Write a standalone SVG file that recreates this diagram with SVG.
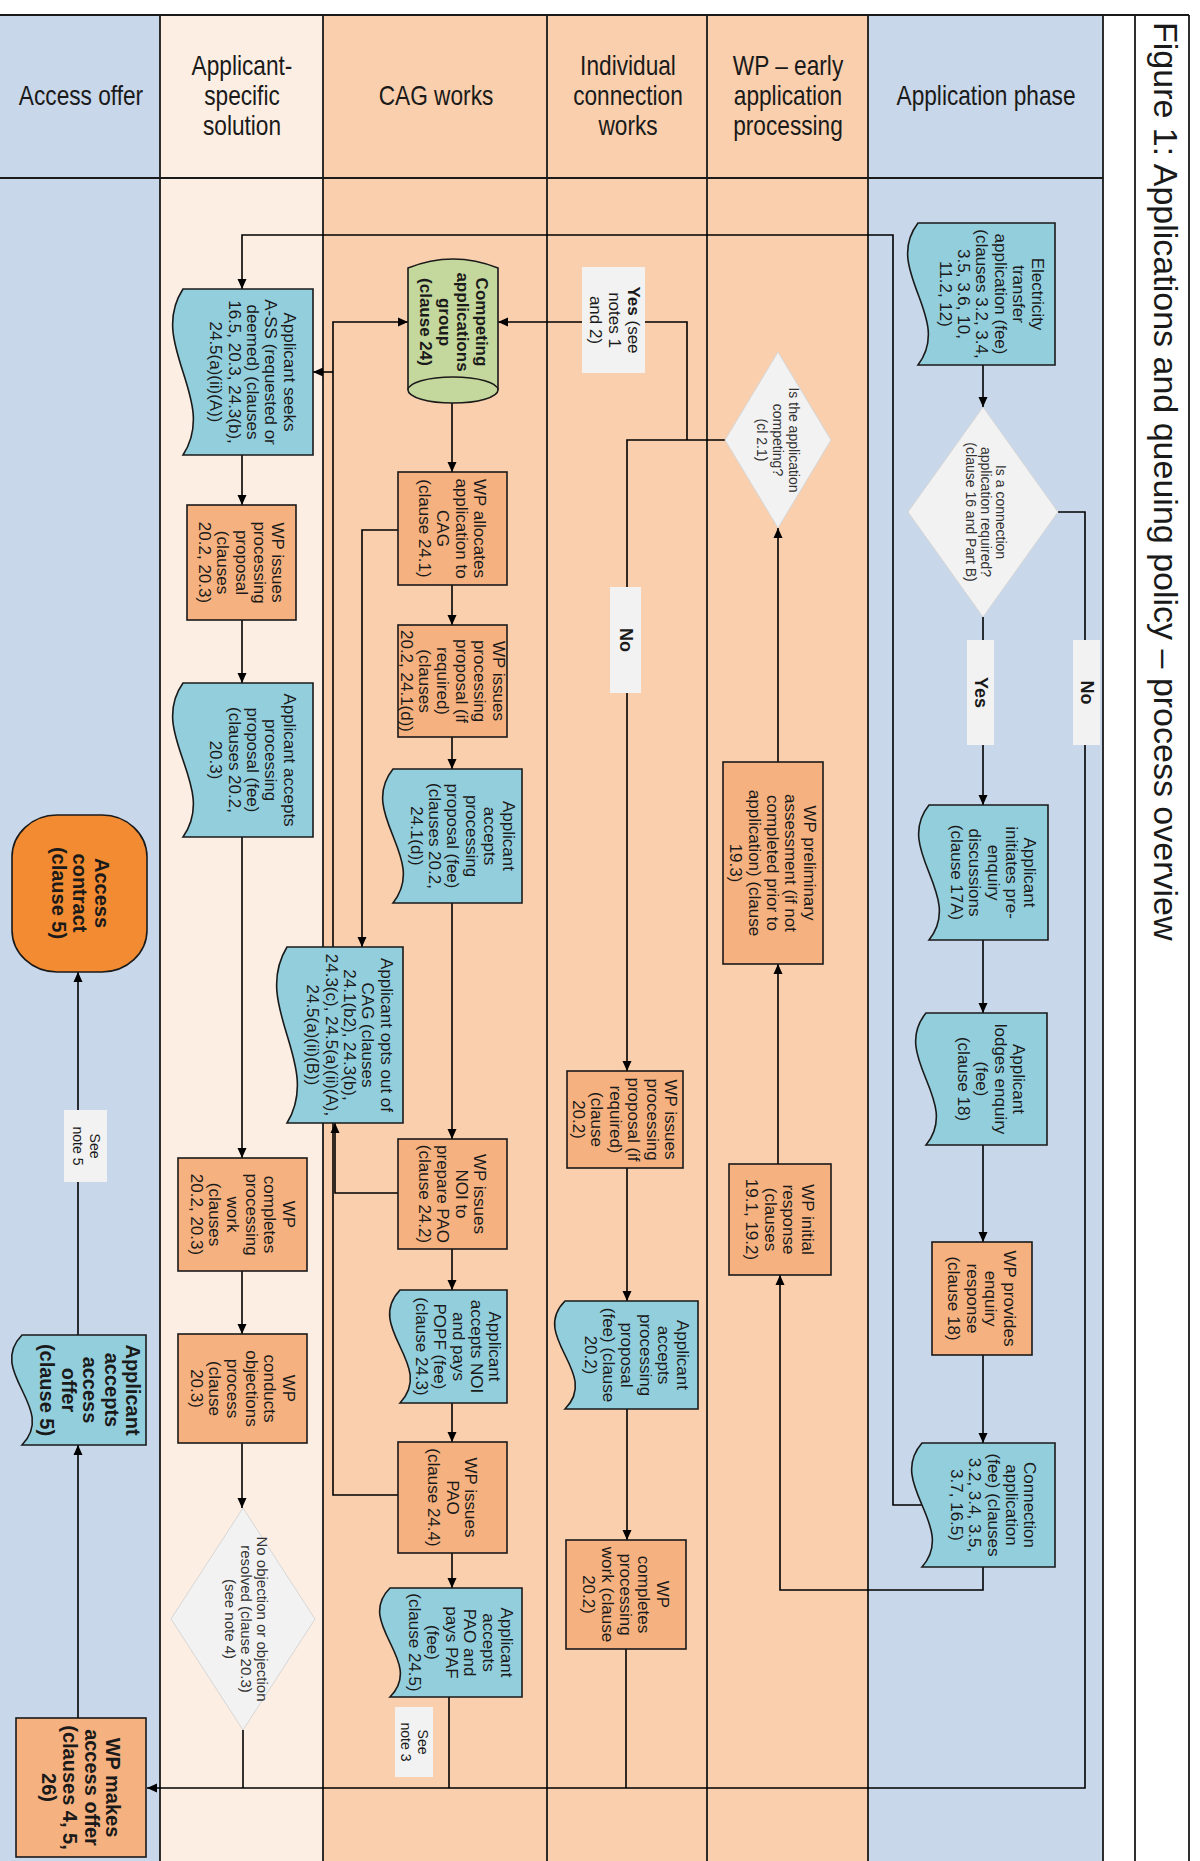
<svg xmlns="http://www.w3.org/2000/svg" width="1200" height="1861" viewBox="0 0 1200 1861">
<defs>
<marker id="ah" viewBox="0 0 10 10" refX="10" refY="5" markerWidth="11" markerHeight="10" markerUnits="userSpaceOnUse" orient="auto"><path d="M0,0.5 L10,5 L0,9.5 z" fill="#000"/></marker>
<style>
.lb{fill:#c8d7e9}
.lp{fill:#facfad}
.ll{fill:#fdeee3}
.ln{stroke:#1a1a1a;stroke-width:1.8;fill:none}
.proc{fill:#f5b17f;stroke:#1a1a1a;stroke-width:1.6}
.doc{fill:#93cedd;stroke:#1a1a1a;stroke-width:1.6}
.dec{fill:#f2f2f2;stroke:#d6d6d6;stroke-width:1}
.cyl{fill:#c4d79c;stroke:#1a1a1a;stroke-width:1.6}
.term{fill:#f28b31;stroke:#1a1a1a;stroke-width:1.6}
.lbl{fill:#f2f2f2}
.c{stroke:#000;stroke-width:1.6;fill:none}
text{font-family:"Liberation Sans",Arial,sans-serif;fill:#1a1a1a;text-anchor:middle}
.t{font-size:17px}
.tb{font-size:17px;font-weight:bold}
.ta{font-size:20px;font-weight:bold}
.td{font-size:14px;fill:#333}
.tl{font-size:17px}
.ts{font-size:14px}
.tyn{font-size:18px;font-weight:bold}
.hdr{font-size:28px}
.ttl{font-size:34px;text-anchor:start}
</style>
</defs>

<g id="lanes">
<rect class="lb" x="0" y="15" width="160" height="1846"/>
<rect class="ll" x="160" y="15" width="163" height="1846"/>
<rect class="lp" x="323" y="15" width="545" height="1846"/>
<rect class="lb" x="868" y="15" width="235" height="1846"/>
<path class="ln" d="M0,15 H1189 M0,178 H1103 M160,15 V1861 M323,15 V1861 M547,15 V1861 M707,15 V1861 M868,15 V1861 M1103,15 V1861 M1135,15 V1861 M1189,15 V1861"/>
<g transform="translate(81,0) scale(0.81,1)"><text class="hdr" x="0" y="105">Access offer</text></g>
<g transform="translate(242,0) scale(0.81,1)"><text class="hdr"><tspan x="0" y="75">Applicant-</tspan><tspan x="0" y="105">specific</tspan><tspan x="0" y="135">solution</tspan></text></g>
<g transform="translate(436,0) scale(0.81,1)"><text class="hdr" x="0" y="105">CAG works</text></g>
<g transform="translate(628,0) scale(0.81,1)"><text class="hdr"><tspan x="0" y="75">Individual</tspan><tspan x="0" y="105">connection</tspan><tspan x="0" y="135">works</tspan></text></g>
<g transform="translate(788,0) scale(0.81,1)"><text class="hdr"><tspan x="0" y="75">WP – early</tspan><tspan x="0" y="105">application</tspan><tspan x="0" y="135">processing</tspan></text></g>
<g transform="translate(986,0) scale(0.81,1)"><text class="hdr" x="0" y="105">Application phase</text></g>
<text class="ttl" transform="translate(1154,22) rotate(90)" x="0" y="0">Figure 1: Applications and queuing policy – process overview</text>
</g>

<g id="connectors">
<path class="c" d="M983,365 V407" marker-end="url(#ah)"/>
<path class="c" d="M983,617 V805" marker-end="url(#ah)"/>
<path class="c" d="M1058,512 H1085 V1788 H147" marker-end="url(#ah)"/>
<path class="c" d="M983,940 V1013" marker-end="url(#ah)"/>
<path class="c" d="M983,1145 V1242" marker-end="url(#ah)"/>
<path class="c" d="M983,1355 V1443" marker-end="url(#ah)"/>
<path class="c" d="M983,1567 V1590 H780 V1275" marker-end="url(#ah)"/>
<path class="c" d="M922,1505 H893 V235 H242 V289" marker-end="url(#ah)"/>
<path class="c" d="M725,440 H627 V1071" marker-end="url(#ah)"/>
<path class="c" d="M687,440 V322 H498" marker-end="url(#ah)"/>
<path class="c" d="M778,1164 V964" marker-end="url(#ah)"/>
<path class="c" d="M778,762 V528" marker-end="url(#ah)"/>
<path class="c" d="M627,1168 V1301" marker-end="url(#ah)"/>
<path class="c" d="M627,1409 V1540" marker-end="url(#ah)"/>
<path class="c" d="M626,1649 V1788"/>
<path class="c" d="M452,403 V472" marker-end="url(#ah)"/>
<path class="c" d="M452,585 V625" marker-end="url(#ah)"/>
<path class="c" d="M452,737 V769" marker-end="url(#ah)"/>
<path class="c" d="M452,903 V1139" marker-end="url(#ah)"/>
<path class="c" d="M452,1249 V1290" marker-end="url(#ah)"/>
<path class="c" d="M452,1403 V1442" marker-end="url(#ah)"/>
<path class="c" d="M452,1553 V1588" marker-end="url(#ah)"/>
<path class="c" d="M449,1697 V1788"/>
<path class="c" d="M398,530 H362 V947" marker-end="url(#ah)"/>
<path class="c" d="M398,1193 H335 V1123" marker-end="url(#ah)"/>
<path class="c" d="M398,1495 H333 V322 H408" marker-end="url(#ah)"/>
<path class="c" d="M333,372 H313" marker-end="url(#ah)"/>
<path class="c" d="M242,455 V505" marker-end="url(#ah)"/>
<path class="c" d="M242,620 V683" marker-end="url(#ah)"/>
<path class="c" d="M242,837 V1158" marker-end="url(#ah)"/>
<path class="c" d="M242,1271 V1334" marker-end="url(#ah)"/>
<path class="c" d="M242,1443 V1508" marker-end="url(#ah)"/>
<path class="c" d="M243,1730 V1788"/>
<path class="c" d="M78,1718 V1445" marker-end="url(#ah)"/>
<path class="c" d="M78,1335 V972" marker-end="url(#ah)"/>
</g>

<g id="labels">
<g id="lbl-yes1"><rect class="lbl" x="967" y="640" width="27" height="105"/><text class="tyn" transform="translate(980.5,692.5) rotate(90)" x="0" y="6">Yes</text></g>
<g id="lbl-no1"><rect class="lbl" x="1073" y="640" width="27" height="105"/><text class="tyn" transform="translate(1086.5,692.5) rotate(90)" x="0" y="6">No</text></g>
<g id="lbl-yes2"><rect class="lbl" x="582" y="267" width="63" height="106"/><text class="tl" transform="translate(615,320) rotate(90)"><tspan x="0" y="-13"><tspan font-weight="bold">Yes</tspan> (see</tspan><tspan x="0" y="6">notes 1</tspan><tspan x="0" y="25">and 2)</tspan></text></g>
<g id="lbl-no2"><rect class="lbl" x="610" y="587" width="31" height="106"/><text class="tyn" transform="translate(625.5,640) rotate(90)" x="0" y="6">No</text></g>
<g id="lbl-note5"><rect class="lbl" x="64" y="1110" width="43" height="72"/><text class="ts" transform="translate(86,1146) rotate(90)"><tspan x="0" y="-3.5">See</tspan><tspan x="0" y="13.5">note 5</tspan></text></g>
<g id="lbl-note3"><rect class="lbl" x="395" y="1707" width="38" height="70"/><text class="ts" transform="translate(414,1742) rotate(90)"><tspan x="0" y="-3.5">See</tspan><tspan x="0" y="13.5">note 3</tspan></text></g>
</g>

<g id="n-et"><path class="doc" d="M918,223 H1055 V365 H918 C954,318 882,270 918,223 Z"/>
<text class="t" transform="translate(991.5,294) rotate(90)"><tspan x="0" y="-40">Electricity</tspan><tspan x="0" y="-21.6">transfer</tspan><tspan x="0" y="-3.2">application (fee)</tspan><tspan x="0" y="15.2">(clauses 3.2, 3.4,</tspan><tspan x="0" y="33.6">3.5, 3.6, 10,</tspan><tspan x="0" y="52">11.2, 12)</tspan></text></g>

<g id="n-d1"><path class="dec" d="M983,407 L1058,512 L983,617 L908,512 Z"/>
<text class="td" transform="translate(986,512) rotate(90)"><tspan x="0" y="-10">Is a connection</tspan><tspan x="0" y="5">application required?</tspan><tspan x="0" y="20">(clause 16 and Part B)</tspan></text></g>

<g id="n-ai"><path class="doc" d="M929,805 H1048 V940 H929 C965,895 893,850 929,805 Z"/>
<text class="t" transform="translate(993.5,872.5) rotate(90)"><tspan x="0" y="-30.8">Applicant</tspan><tspan x="0" y="-12.4">initiates pre-</tspan><tspan x="0" y="6">enquiry</tspan><tspan x="0" y="24.4">discussions</tspan><tspan x="0" y="42.8">(clause 17A)</tspan></text></g>

<g id="n-al"><path class="doc" d="M926,1013 H1047 V1145 H926 C962,1101 890,1057 926,1013 Z"/>
<text class="t" transform="translate(991.5,1079) rotate(90)"><tspan x="0" y="-21.6">Applicant</tspan><tspan x="0" y="-3.2">lodges enquiry</tspan><tspan x="0" y="15.2">(fee)</tspan><tspan x="0" y="33.6">(clause 18)</tspan></text></g>

<g id="n-wpe"><rect class="proc" x="932" y="1242" width="100" height="113"/>
<text class="t" transform="translate(982,1298.5) rotate(90)"><tspan x="0" y="-21.6">WP provides</tspan><tspan x="0" y="-3.2">enquiry</tspan><tspan x="0" y="15.2">response</tspan><tspan x="0" y="33.6">(clause 18)</tspan></text></g>

<g id="n-ca"><path class="doc" d="M922,1443 H1055 V1567 H922 C958,1526 886,1484 922,1443 Z"/>
<text class="t" transform="translate(993.5,1505) rotate(90)"><tspan x="0" y="-30.8">Connection</tspan><tspan x="0" y="-12.4">application</tspan><tspan x="0" y="6">(fee) (clauses</tspan><tspan x="0" y="24.4">3.2, 3.4, 3.5,</tspan><tspan x="0" y="42.8">3.7, 16.5)</tspan></text></g>

<g id="n-d2"><path class="dec" d="M778,352 L831,440 L778,528 L725,440 Z"/>
<text class="td" transform="translate(778,440) rotate(90)"><tspan x="0" y="-11">Is the application</tspan><tspan x="0" y="5">competing?</tspan><tspan x="0" y="21">(cl 2.1)</tspan></text></g>

<g id="n-wpp"><rect class="proc" x="723" y="762" width="100" height="202"/>
<text class="t" transform="translate(773,863) rotate(90)"><tspan x="0" y="-30.8">WP preliminary</tspan><tspan x="0" y="-12.4">assessment (if not</tspan><tspan x="0" y="6">completed prior to</tspan><tspan x="0" y="24.4">application) (clause</tspan><tspan x="0" y="42.8">19.3)</tspan></text></g>

<g id="n-wpi"><rect class="proc" x="729" y="1164" width="102" height="111"/>
<text class="t" transform="translate(780,1219.5) rotate(90)"><tspan x="0" y="-21.6">WP initial</tspan><tspan x="0" y="-3.2">response</tspan><tspan x="0" y="15.2">(clauses</tspan><tspan x="0" y="33.6">19.1, 19.2)</tspan></text></g>

<g id="n-wpip"><rect class="proc" x="567" y="1071" width="116" height="97"/>
<text class="t" transform="translate(625,1119.5) rotate(90)"><tspan x="0" y="-40">WP issues</tspan><tspan x="0" y="-21.6">processing</tspan><tspan x="0" y="-3.2">proposal (if</tspan><tspan x="0" y="15.2">required)</tspan><tspan x="0" y="33.6">(clause</tspan><tspan x="0" y="52">20.2)</tspan></text></g>

<g id="n-aap"><path class="doc" d="M565,1301 H698 V1409 H565 C601,1373 529,1337 565,1301 Z"/>
<text class="t" transform="translate(636.5,1355) rotate(90)"><tspan x="0" y="-40">Applicant</tspan><tspan x="0" y="-21.6">accepts</tspan><tspan x="0" y="-3.2">processing</tspan><tspan x="0" y="15.2">proposal</tspan><tspan x="0" y="33.6">(fee) (clause</tspan><tspan x="0" y="52">20.2)</tspan></text></g>

<g id="n-wpc"><rect class="proc" x="566" y="1540" width="120" height="109"/>
<text class="t" transform="translate(626,1594.5) rotate(90)"><tspan x="0" y="-30.8">WP</tspan><tspan x="0" y="-12.4">completes</tspan><tspan x="0" y="6">processing</tspan><tspan x="0" y="24.4">work (clause</tspan><tspan x="0" y="42.8">20.2)</tspan></text></g>

<g id="n-cag"><path class="cyl" d="M408,268 Q453,250 498,268 L498,390 A45,13 0 0 1 408,390 Z"/><path class="cyl" d="M408,390 A45,13 0 0 1 498,390" fill="none"/>
<text class="tb" transform="translate(454,322) rotate(90)"><tspan x="0" y="-21.6">Competing</tspan><tspan x="0" y="-3.2">applications</tspan><tspan x="0" y="15.2">group</tspan><tspan x="0" y="33.6">(clause 24)</tspan></text></g>

<g id="n-wpa"><rect class="proc" x="398" y="472" width="109" height="113"/>
<text class="t" transform="translate(452.5,528.5) rotate(90)"><tspan x="0" y="-21.6">WP allocates</tspan><tspan x="0" y="-3.2">application to</tspan><tspan x="0" y="15.2">CAG</tspan><tspan x="0" y="33.6">(clause 24.1)</tspan></text></g>

<g id="n-wpip2"><rect class="proc" x="398" y="625" width="109" height="112"/>
<text class="t" transform="translate(452.5,681) rotate(90)"><tspan x="0" y="-40">WP issues</tspan><tspan x="0" y="-21.6">processing</tspan><tspan x="0" y="-3.2">proposal (if</tspan><tspan x="0" y="15.2">required)</tspan><tspan x="0" y="33.6">(clauses</tspan><tspan x="0" y="52">20.2, 24.1(d))</tspan></text></g>

<g id="n-aap2"><path class="doc" d="M393,769 H522 V903 H393 C429,858 357,814 393,769 Z"/>
<text class="t" transform="translate(462.5,836) rotate(90)"><tspan x="0" y="-40">Applicant</tspan><tspan x="0" y="-21.6">accepts</tspan><tspan x="0" y="-3.2">processing</tspan><tspan x="0" y="15.2">proposal (fee)</tspan><tspan x="0" y="33.6">(clauses 20.2,</tspan><tspan x="0" y="52">24.1(d))</tspan></text></g>

<g id="n-opt"><path class="doc" d="M287,947 H403 V1123 H287 C323,1064 251,1006 287,947 Z"/>
<text class="t" transform="translate(350,1035) rotate(90)"><tspan x="0" y="-30.8">Applicant opts out of</tspan><tspan x="0" y="-12.4">CAG (clauses</tspan><tspan x="0" y="6">24.1(b2), 24.3(b),</tspan><tspan x="0" y="24.4">24.3(c), 24.5(a)(ii)(A),</tspan><tspan x="0" y="42.8">24.5(a)(ii)(B))</tspan></text></g>

<g id="n-noi"><rect class="proc" x="398" y="1139" width="109" height="110"/>
<text class="t" transform="translate(452.5,1194) rotate(90)"><tspan x="0" y="-21.6">WP issues</tspan><tspan x="0" y="-3.2">NOI to</tspan><tspan x="0" y="15.2">prepare PAO</tspan><tspan x="0" y="33.6">(clause 24.2)</tspan></text></g>

<g id="n-anoi"><path class="doc" d="M400,1290 H507 V1403 H400 C436,1365 364,1328 400,1290 Z"/>
<text class="t" transform="translate(458.5,1346.5) rotate(90)"><tspan x="0" y="-30.8">Applicant</tspan><tspan x="0" y="-12.4">accepts NOI</tspan><tspan x="0" y="6">and pays</tspan><tspan x="0" y="24.4">POPF (fee)</tspan><tspan x="0" y="42.8">(clause 24.3)</tspan></text></g>

<g id="n-pao"><rect class="proc" x="398" y="1442" width="109" height="111"/>
<text class="t" transform="translate(452.5,1497.5) rotate(90)"><tspan x="0" y="-12.4">WP issues</tspan><tspan x="0" y="6">PAO</tspan><tspan x="0" y="24.4">(clause 24.4)</tspan></text></g>

<g id="n-apao"><path class="doc" d="M390,1588 H522 V1697 H390 C426,1661 354,1624 390,1588 Z"/>
<text class="t" transform="translate(461,1642.5) rotate(90)"><tspan x="0" y="-40">Applicant</tspan><tspan x="0" y="-21.6">accepts</tspan><tspan x="0" y="-3.2">PAO and</tspan><tspan x="0" y="15.2">pays PAF</tspan><tspan x="0" y="33.6">(fee)</tspan><tspan x="0" y="52">(clause 24.5)</tspan></text></g>

<g id="n-ass"><path class="doc" d="M183,289 H313 V455 H183 C219,400 147,344 183,289 Z"/>
<text class="t" transform="translate(253,372) rotate(90)"><tspan x="0" y="-30.8">Applicant seeks</tspan><tspan x="0" y="-12.4">A-SS (requested or</tspan><tspan x="0" y="6">deemed) (clauses</tspan><tspan x="0" y="24.4">16.5, 20.3, 24.3(b),</tspan><tspan x="0" y="42.8">24.5(a)(ii)(A))</tspan></text></g>

<g id="n-wpip3"><rect class="proc" x="187" y="505" width="109" height="115"/>
<text class="t" transform="translate(241.5,562.5) rotate(90)"><tspan x="0" y="-30.8">WP issues</tspan><tspan x="0" y="-12.4">processing</tspan><tspan x="0" y="6">proposal</tspan><tspan x="0" y="24.4">(clauses</tspan><tspan x="0" y="42.8">20.2, 20.3)</tspan></text></g>

<g id="n-aap3"><path class="doc" d="M183,683 H313 V837 H183 C219,786 147,734 183,683 Z"/>
<text class="t" transform="translate(253,760) rotate(90)"><tspan x="0" y="-30.8">Applicant accepts</tspan><tspan x="0" y="-12.4">processing</tspan><tspan x="0" y="6">proposal (fee)</tspan><tspan x="0" y="24.4">(clauses 20.2,</tspan><tspan x="0" y="42.8">20.3)</tspan></text></g>

<g id="n-wpc3"><rect class="proc" x="178" y="1158" width="129" height="113"/>
<text class="t" transform="translate(242.5,1214.5) rotate(90)"><tspan x="0" y="-40">WP</tspan><tspan x="0" y="-21.6">completes</tspan><tspan x="0" y="-3.2">processing</tspan><tspan x="0" y="15.2">work</tspan><tspan x="0" y="33.6">(clauses</tspan><tspan x="0" y="52">20.2, 20.3)</tspan></text></g>

<g id="n-wpo"><rect class="proc" x="178" y="1334" width="129" height="109"/>
<text class="t" transform="translate(242.5,1388.5) rotate(90)"><tspan x="0" y="-40">WP</tspan><tspan x="0" y="-21.6">conducts</tspan><tspan x="0" y="-3.2">objections</tspan><tspan x="0" y="15.2">process</tspan><tspan x="0" y="33.6">(clause</tspan><tspan x="0" y="52">20.3)</tspan></text></g>

<g id="n-d3"><path class="dec" d="M243,1508 L315,1619 L243,1730 L171,1619 Z"/>
<text class="td" transform="translate(246,1619) rotate(90)" style="font-size:15px"><tspan x="0" y="-11">No objection or objection</tspan><tspan x="0" y="5">resolved (clause 20.3)</tspan><tspan x="0" y="21">(see note 4)</tspan></text></g>

<g id="n-ac"><rect class="term" x="12" y="815" width="135" height="157" rx="45" ry="42"/>
<text class="ta" transform="translate(80,893) rotate(90)"><tspan x="0" y="-14.5">Access</tspan><tspan x="0" y="7">contract</tspan><tspan x="0" y="28.5">(clause 5)</tspan></text></g>

<g id="n-aao"><path class="doc" d="M22,1335 H146 V1445 H22 C58,1408 -14,1372 22,1335 Z"/>
<text class="ta" transform="translate(90,1390) rotate(90)"><tspan x="0" y="-36">Applicant</tspan><tspan x="0" y="-14.5">accepts</tspan><tspan x="0" y="7">access</tspan><tspan x="0" y="28.5">offer</tspan><tspan x="0" y="50">(clause 5)</tspan></text></g>

<g id="n-wpm"><rect class="proc" x="16" y="1718" width="130" height="139"/>
<text class="ta" transform="translate(81,1787.5) rotate(90)"><tspan x="0" y="-25.25">WP makes</tspan><tspan x="0" y="-3.75">access offer</tspan><tspan x="0" y="17.75">(clauses 4, 5,</tspan><tspan x="0" y="39.25">26)</tspan></text></g>
</svg>
